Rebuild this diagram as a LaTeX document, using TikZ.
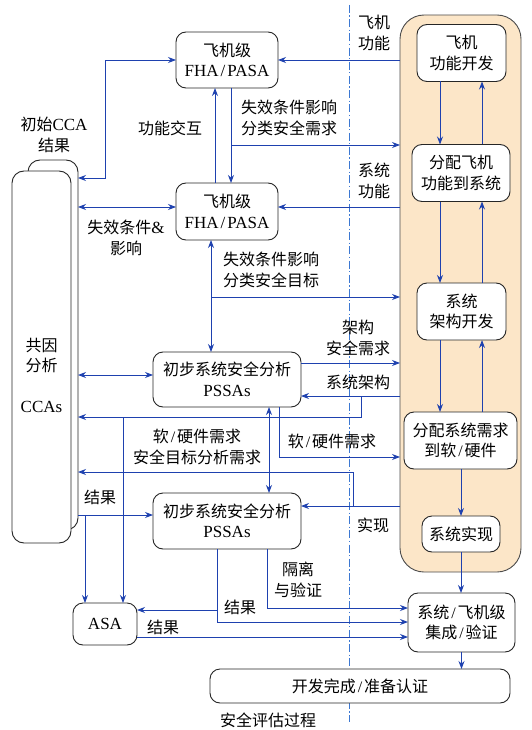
\documentclass[tikz,border=0pt]{standalone}
\usepackage{fontspec}
\setmainfont{Liberation Serif}
\newfontfamily\cjk{Noto Sans CJK SC}
\usetikzlibrary{arrows.meta}

\definecolor{flowblue}{RGB}{30,65,175}
\definecolor{splitblue}{RGB}{60,120,210}
\definecolor{panelfill}{RGB}{252,230,200}

% latin text and a slash with some room round it
\newcommand{\lat}[1]{{\rmfamily\fontsize{17}{20.5}\selectfont #1}}
\newcommand{\sls}{{\rmfamily\kern2pt/\kern2pt}}

\begin{document}
\begin{tikzpicture}[x=1pt,y=-1pt,
  every node/.style={font=\cjk\fontsize{16}{20.5}\selectfont, align=center, inner sep=0pt, outer sep=0pt},
  box/.style={draw=black!85, line width=0.9pt, rounded corners=10pt, fill=white},
  panel/.style={draw=black!70, line width=0.9pt, rounded corners=24pt, fill=panelfill},
  flow/.style={draw=flowblue, line width=0.9pt, -{Stealth[length=8pt,width=6pt]}},
  biflow/.style={flow, {Stealth[length=8pt,width=6pt]}-{Stealth[length=8pt,width=6pt]}},
  splitline/.style={draw=splitblue, line width=0.8pt, dash pattern=on 8pt off 2.5pt on 1.2pt off 2.5pt}]

  \useasboundingbox (0,0) rectangle (531,730);
  \fill[white] (0,0) rectangle (531,730);

  % Draw the dividing line
  \draw[splitline] (349,5) -- (349,722);

  % Draw the development panel
  \node[panel, minimum width=121pt, minimum height=557pt] (dev) at (460.5,293.5) {};

  % Define the boxes in the panel
  \node[box, minimum width=89pt, minimum height=57pt] (acfun) at (461.5,53) {飞机\\功能开发};
  \node[box, minimum width=98pt, minimum height=57pt] (acalloc) at (461,173) {分配飞机\\功能到系统};
  \node[box, minimum width=89pt, minimum height=57pt] (sysarch) at (461.5,311.5) {系统\\架构开发};
  \node[box, minimum width=113pt, minimum height=57pt] (sysalloc) at (460.5,440.5) {分配系统需求\\到软\sls 硬件};
  \node[box, minimum width=78pt, minimum height=36pt] (sysimpl) at (461,534) {系统实现};
  \node[box, minimum width=107pt, minimum height=59pt] (sysint) at (461.5,622.5) {系统\sls 飞机级\\集成\sls 验证};
  \node[box, minimum width=300pt, minimum height=34pt] (done) at (360,686) {开发完成\sls 准备认证};

  % Define the safety assessment boxes
  \node[box, minimum width=102pt, minimum height=56pt] (fhatop) at (227,60) {飞机级\\\lat{FHA\sls PASA}};
  \node[box, minimum width=102pt, minimum height=57pt] (fhamid) at (227,211.5) {飞机级\\\lat{FHA\sls PASA}};
  \node[box, minimum width=148pt, minimum height=55pt] (pssatop) at (227,379.5) {初步系统安全分析\\\lat{PSSAs}};
  \node[box, minimum width=148pt, minimum height=56pt] (pssabot) at (227,521) {初步系统安全分析\\\lat{PSSAs}};
  \node[box, minimum width=64pt, minimum height=42pt] (asa) at (105,624) {\lat{ASA}};
  \node[box, rounded corners=12pt, minimum width=50pt, minimum height=370pt] (ccaback) at (53,345) {};
  \node[box, rounded corners=12pt, minimum width=59pt, minimum height=372pt] (cca) at (41.5,357) {};
  \node (ccatext) at (41.5,375) {共因\\分析\\[20pt]\lat{CCAs}};

  % Define the turning points
  \coordinate (j1) at (105,178);
  \coordinate (j2) at (231,145);
  \coordinate (j3) at (211,297);
  \coordinate (j4) at (361,396);
  \coordinate (j5) at (123,417);
  \coordinate (j6) at (353,506);
  \coordinate (j7) at (85,515);
  \coordinate (j8) at (217,610);

  % Draw the flows inside the panel
  \foreach \a/\b in {acfun/acalloc, acalloc/sysarch, sysarch/sysalloc} {
    \draw[flow] (\a.south -| 440,0) -- (\b.north -| 440,0);
    \draw[flow] (\b.north -| 482,0) -- (\a.south -| 482,0);
  }
  \draw[flow] (sysalloc.south -| sysimpl.north) -- (sysimpl.north);
  \draw[flow] (sysimpl.south) -- (sysimpl.south |- sysint.north);
  \draw[flow] (sysint.south) -- (sysint.south |- done.north);

  % Draw the aircraft level flows
  \draw[biflow] (ccaback.east |- j1) -- (j1) |- (fhatop.west);
  \draw[flow] (dev.west |- fhatop.east) -- (fhatop.east);
  \draw[flow] ([xshift=-12pt]fhamid.north) -- ([xshift=-12pt]fhatop.south);
  \draw[flow] ([xshift=4pt]fhatop.south) -- ([xshift=4pt]fhamid.north);
  \draw[flow] (j2) -- (dev.west |- j2);
  \draw[flow] (dev.west |- 0,207) -- (fhamid.east |- 0,207);
  \draw[biflow] (ccaback.east |- 0,207) -- (fhamid.west |- 0,207);
  \draw[biflow] ([xshift=-16pt]fhamid.south) -- ([xshift=-16pt]pssatop.north);
  \draw[flow] (j3) -- (dev.west |- j3);

  % Draw the system level flows
  \draw[biflow] (ccaback.east |- 0,375) -- (pssatop.west |- 0,375);
  \draw[flow] (pssatop.east |- 0,363) -- (dev.west |- 0,363);
  \draw[flow] (dev.west |- j4) -- (pssatop.east |- j4);
  \draw[flow] (j4) |- (ccaback.east |- j5);
  \draw[flow] (j5) -- (j5 |- asa.north);
  \draw[flow] ([xshift=52pt]pssatop.south) |- (dev.west |- 0,457);
  \draw[biflow] ([xshift=42pt]pssatop.south) -- ([xshift=42pt]pssabot.north);
  \draw[flow] (dev.west |- j6) -- (pssabot.east |- j6);
  \draw[flow] (j6) |- (ccaback.east |- 0,472);
  \draw[flow] (ccaback.east |- j7) -- (pssabot.west |- j7);
  \draw[flow] (j7) -- (j7 |- asa.north);

  % Draw the result flows
  \draw[flow] ([xshift=-10pt]pssabot.south) |- (sysint.west |- 0,622);
  \draw[flow] (j8) -- (asa.east |- j8);
  \draw[flow] ([xshift=40pt]pssabot.south) |- (sysint.west |- 0,608);
  \draw[flow] (asa.east |- 0,637) -- (sysint.west |- 0,637);

  % Draw the labels
  \node (lbinit) at (54,135) {初始\lat{CCA}\\结果};
  \node (lbinter) at (170,128) {功能交互};
  \node (lbfcreq) at (289,118) {失效条件影响\\分类安全需求};
  \node (lbacfun) at (374,33) {飞机\\功能};
  \node (lbsysfun) at (374,181) {系统\\功能};
  \node (lbfcimp) at (126,238) {失效条件\lat{\&}\\影响};
  \node (lbfcgoal) at (271,270) {失效条件影响\\分类安全目标};
  \node (lbarchreq) at (358,338) {架构\\安全需求};
  \node (lbarch) at (358,382) {系统架构};
  \node (lbswhw) at (197,447) {软\sls 硬件需求\\安全目标分析需求};
  \node (lbswhwreq) at (332,441) {软\sls 硬件需求};
  \node (lbimpl) at (373,525) {实现};
  \node (lbres1) at (100,497) {结果};
  \node (lbiso) at (298,580) {隔离\\与验证};
  \node (lbres2) at (240,607) {结果};
  \node (lbres3) at (163,627) {结果};
  \node (lbtitle) at (268,720) {安全评估过程};

\end{tikzpicture}
\end{document}
